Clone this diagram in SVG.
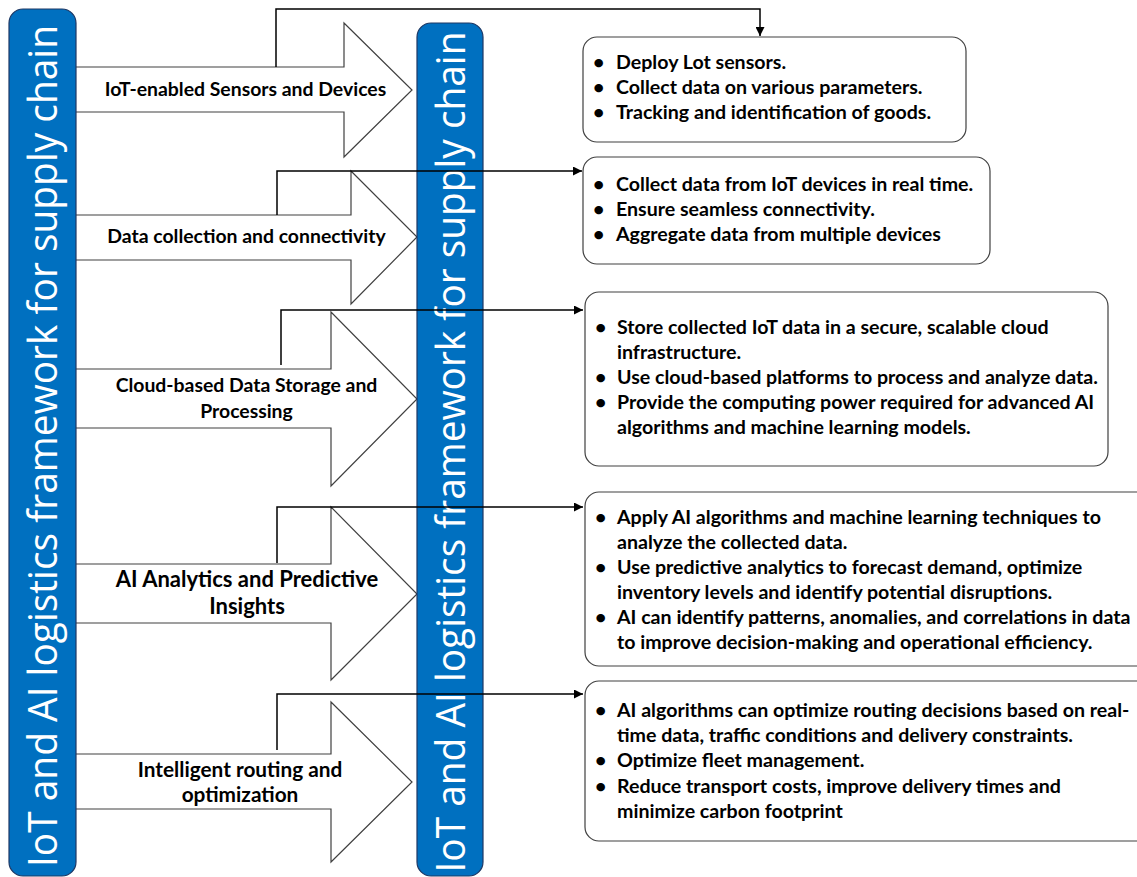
<svg xmlns="http://www.w3.org/2000/svg" width="1137" height="877" viewBox="0 0 1137 877">
<defs>
<style>
.arrow{fill:#fff;stroke:#404040;stroke-width:1.2}
.bar{fill:#0070C0;stroke:#1F3864;stroke-width:1.2}
.bartext{font-family:"Open Sans",sans-serif;font-size:40px;fill:#fff}
.lbl{font-family:Lato,"Liberation Sans",sans-serif;font-weight:bold;font-size:19.4px;fill:#000;text-anchor:middle}
.lbl2{font-family:Lato,"Liberation Sans",sans-serif;font-weight:bold;font-size:22px;fill:#000;text-anchor:middle}
.lbl3{font-family:Lato,"Liberation Sans",sans-serif;font-weight:bold;font-size:20.8px;fill:#000;text-anchor:middle}
.box{fill:#fff;stroke:#404040;stroke-width:1.2}
.bt{font-family:Lato,"Liberation Sans",sans-serif;font-weight:bold;font-size:19.6px;fill:#000}
.conn{fill:none;stroke:#000;stroke-width:1.5}
</style>
<marker id="ah" viewBox="0 0 10 10" refX="10" refY="5" markerWidth="9" markerHeight="9" markerUnits="userSpaceOnUse" orient="auto">
<path d="M0,0 L10,5 L0,10 z" fill="#000"/>
</marker>
</defs>
<rect width="1137" height="877" fill="#fff"/>

<g id="arrow1"><polygon class="arrow" points="70,67 344,67 344,23 412,90 344,157 344,112 70,112"/><text class="lbl" x="245.5" y="96">IoT-enabled Sensors and Devices</text></g>
<g id="arrow2"><polygon class="arrow" points="70,215 351,215 351,171 417,237 351,304 351,260 70,260"/><text class="lbl" x="246.5" y="243">Data collection and connectivity</text></g>
<g id="arrow3"><polygon class="arrow" points="70,369 331,369 331,312 417,399 331,486 331,428 70,428"/><text class="lbl" x="246.5" y="392">Cloud-based Data Storage and</text><text class="lbl" x="246.5" y="418">Processing</text></g>
<g id="arrow4"><polygon class="arrow" points="70,564 331,564 331,507 417,594 331,680 331,623 70,623"/><text class="lbl2" x="247" y="587">AI Analytics and Predictive</text><text class="lbl2" x="247" y="614">Insights</text></g>
<g id="arrow5"><polygon class="arrow" points="70,754 331,754 331,702 412,782 331,862 331,809 70,809"/><text class="lbl3" x="240" y="777">Intelligent routing and</text><text class="lbl3" x="240" y="802">optimization</text></g>

<g id="bar-left"><rect class="bar" x="9" y="9" width="67" height="867" rx="14"/><text class="bartext" transform="translate(57,446) rotate(-90)" text-anchor="middle" textLength="842" lengthAdjust="spacingAndGlyphs">IoT and AI logistics framework for supply chain</text></g>
<g id="bar-mid"><rect class="bar" x="417" y="23" width="66" height="853" rx="14"/><text class="bartext" transform="translate(465,452) rotate(-90)" text-anchor="middle" textLength="841" lengthAdjust="spacingAndGlyphs">IoT and AI logistics framework for supply chain</text></g>

<g id="box1"><rect class="box" x="583" y="37" width="383" height="105" rx="14"/>
<text class="bt"><tspan x="593" y="69">•</tspan><tspan x="616" y="69">Deploy Lot sensors.</tspan><tspan x="593" y="94">•</tspan><tspan x="616" y="94">Collect data on various parameters.</tspan><tspan x="593" y="119">•</tspan><tspan x="616" y="119">Tracking and identification of goods.</tspan></text></g>
<g id="box2"><rect class="box" x="583" y="157" width="407" height="107" rx="14"/>
<text class="bt"><tspan x="593" y="191">•</tspan><tspan x="616" y="191">Collect data from IoT devices in real time.</tspan><tspan x="593" y="216">•</tspan><tspan x="616" y="216">Ensure seamless connectivity.</tspan><tspan x="593" y="241">•</tspan><tspan x="616" y="241">Aggregate data from multiple devices</tspan></text></g>
<g id="box3"><rect class="box" x="585" y="292" width="523" height="174" rx="14"/>
<text class="bt"><tspan x="595" y="334">•</tspan><tspan x="617" y="334">Store collected IoT data in a secure, scalable cloud</tspan><tspan x="617" y="359">infrastructure.</tspan><tspan x="595" y="384">•</tspan><tspan x="617" y="384">Use cloud-based platforms to process and analyze data.</tspan><tspan x="595" y="409">•</tspan><tspan x="617" y="409">Provide the computing power required for advanced AI</tspan><tspan x="617" y="434">algorithms and machine learning models.</tspan></text></g>
<g id="box4"><rect class="box" x="585" y="492" width="570" height="174" rx="14"/>
<text class="bt"><tspan x="595" y="524">•</tspan><tspan x="617" y="524">Apply AI algorithms and machine learning techniques to</tspan><tspan x="617" y="549">analyze the collected data.</tspan><tspan x="595" y="574">•</tspan><tspan x="617" y="574">Use predictive analytics to forecast demand, optimize</tspan><tspan x="617" y="599">inventory levels and identify potential disruptions.</tspan><tspan x="595" y="624">•</tspan><tspan x="617" y="624">AI can identify patterns, anomalies, and correlations in data</tspan><tspan x="617" y="649">to improve decision-making and operational efficiency.</tspan></text></g>
<g id="box5"><rect class="box" x="585" y="681" width="570" height="160" rx="14"/>
<text class="bt"><tspan x="595" y="717">•</tspan><tspan x="617" y="717">AI algorithms can optimize routing decisions based on real-</tspan><tspan x="617" y="742">time data, traffic conditions and delivery constraints.</tspan><tspan x="595" y="767">•</tspan><tspan x="617" y="767">Optimize fleet management.</tspan><tspan x="595" y="793">•</tspan><tspan x="617" y="793">Reduce transport costs, improve delivery times and</tspan><tspan x="617" y="818">minimize carbon footprint</tspan></text></g>

<g id="connectors">
<path class="conn" d="M276,67 V9 H760 V36" marker-end="url(#ah)"/>
<path class="conn" d="M277,215 V171 H582" marker-end="url(#ah)"/>
<path class="conn" d="M281,365 V310 H583" marker-end="url(#ah)"/>
<path class="conn" d="M277,563 V507 H583" marker-end="url(#ah)"/>
<path class="conn" d="M277,750 V694 H583" marker-end="url(#ah)"/>
</g>
</svg>
